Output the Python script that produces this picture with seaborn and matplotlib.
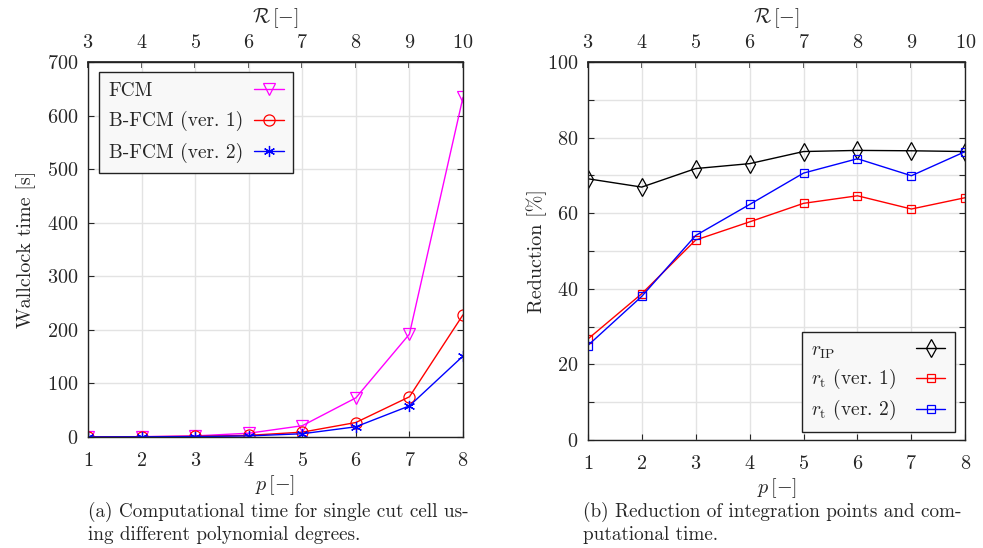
import numpy as np
import pandas as pd
import seaborn as sns
import matplotlib
matplotlib.use("Agg")
import matplotlib.pyplot as plt
from matplotlib.ticker import MultipleLocator

# ---- data ----
p = [1, 2, 3, 4, 5, 6, 7, 8]
r_ticks = [3, 4, 5, 6, 7, 8, 9, 10]
fcm = [0.3, 0.6, 2, 7, 21, 73, 192, 634]
bfcm1 = [0.2, 0.4, 1.2, 3, 9, 27, 75, 228]
bfcm2 = [0.1, 0.3, 0.8, 2, 6, 19, 58, 151]
r_ip = [69.1, 66.9, 71.8, 73.1, 76.3, 76.6, 76.5, 76.3]
r_t1 = [26.7, 38.7, 52.9, 57.7, 62.6, 64.6, 61.1, 64.1]
r_t2 = [25.0, 38.0, 54.1, 62.3, 70.6, 74.4, 69.9, 76.3]

sns.set_theme(style="ticks")
plt.rcParams["font.family"] = ["serif"]
plt.rcParams["font.serif"] = ["cmr10", "DejaVu Serif"]
plt.rcParams["mathtext.fontset"] = "cm"
plt.rcParams["axes.formatter.use_mathtext"] = True
plt.rcParams["axes.unicode_minus"] = False

fig = plt.figure(figsize=(9.83, 5.48), dpi=100)
ax1 = fig.add_axes([0.0895, 0.2026, 0.3815, 0.6844])
ax2 = fig.add_axes([0.598, 0.197, 0.384, 0.69])

df1 = pd.DataFrame({"p": p, "FCM": fcm, "B1": bfcm1, "B2": bfcm2})
df2 = pd.DataFrame({"p": p, "ip": r_ip, "t1": r_t1, "t2": r_t2})

common = dict(linewidth=1.0, markerfacecolor="none", markeredgewidth=0.9)
sns.lineplot(data=df1, x="p", y="FCM", ax=ax1, color="#ff00ff", marker="v",
             markersize=9, markeredgecolor="#ff00ff", label="FCM", **common)
sns.lineplot(data=df1, x="p", y="B1", ax=ax1, color="#ff0000", marker="o",
             markersize=8, markeredgecolor="#ff0000", label="B-FCM (ver. 1)", **common)
sns.lineplot(data=df1, x="p", y="B2", ax=ax1, color="#0000ff", marker=(6, 2, 0),
             markersize=8, markeredgecolor="#0000ff", label="B-FCM (ver. 2)", **common)

sns.lineplot(data=df2, x="p", y="ip", ax=ax2, color="black", marker="d",
             markersize=9, markeredgecolor="black", label=r"$r_{\mathrm{IP}}$", **common)
sns.lineplot(data=df2, x="p", y="t1", ax=ax2, color="#ff0000", marker="s",
             markersize=6, markeredgecolor="#ff0000", label=r"$r_{\mathrm{t}}$ (ver. 1)", **common)
sns.lineplot(data=df2, x="p", y="t2", ax=ax2, color="#0000ff", marker="s",
             markersize=6, markeredgecolor="#0000ff", label=r"$r_{\mathrm{t}}$ (ver. 2)", **common)

fs = 14.5
for ax in (ax1, ax2):
    ax.set_xlim(1, 8)
    ax.set_xticks(p)
    ax.set_xlabel(r"$p\,[-]$", fontsize=fs, labelpad=2)
    ax.grid(True, which="both", color="#e3e3e3", linewidth=1.0)
    ax.set_axisbelow(True)
    ax.tick_params(direction="in", which="both", top=False, right=True,
                   labelsize=fs, length=4, width=0.8)
    ax.tick_params(axis="x", pad=11)
    ax.tick_params(axis="y", pad=7)
    for s in ax.spines.values():
        s.set_linewidth(1.0)
        s.set_color("#222222")
    sec = ax.secondary_xaxis("top", functions=(lambda x: x + 2, lambda x: x - 2))
    sec.set_xticks(r_ticks)
    sec.tick_params(direction="in", labelsize=fs, length=4, pad=7)
    sec.set_xlabel(r"$\mathcal{R}\,[-]$", fontsize=fs, labelpad=8)

ax1.set_ylim(0, 700)
ax1.set_yticks(range(0, 701, 100))
ax1.set_ylabel("Wallclock time [s]", fontsize=fs, labelpad=8)
ax2.set_ylim(0, 100)
ax2.set_yticks(range(0, 101, 20))
ax2.yaxis.set_minor_locator(MultipleLocator(10))
ax2.set_ylabel("Reduction [%]", fontsize=fs, labelpad=0)

leg_kw = dict(markerfirst=False, fancybox=False, edgecolor="#222222",
              facecolor="#f8f8f8", framealpha=1.0, fontsize=14, handlelength=1.5,
              borderpad=0.5, handletextpad=0.6, borderaxespad=0)
l1 = ax1.legend(loc="upper left", bbox_to_anchor=(0.029, 0.973), labelspacing=0.6, **leg_kw)
l2 = ax2.legend(loc="lower right", bbox_to_anchor=(0.973, 0.021), labelspacing=0.35, **leg_kw)
for l in (l1, l2):
    l.get_frame().set_linewidth(1.0)

cap_fs = 13.8
fig.text(0.0895, 1 - 517 / 548, "(a) Computational time for single cut cell us-",
         fontsize=cap_fs, va="baseline", ha="left")
fig.text(0.0895, 1 - 540 / 548, "ing different polynomial degrees.",
         fontsize=cap_fs, va="baseline", ha="left")
fig.text(0.593, 1 - 517 / 548, "(b) Reduction of integration points and com-",
         fontsize=cap_fs, va="baseline", ha="left")
fig.text(0.593, 1 - 540 / 548, "putational time.",
         fontsize=cap_fs, va="baseline", ha="left")

# left-align legend texts while keeping markers at the right
fig.canvas.draw()
renderer = fig.canvas.get_renderer()
for leg, extra in ((l1, 0), (l2, 8)):
    for col in leg._legend_handle_box.get_children():
        rows = col.get_children()
        w = max(r.get_bbox(renderer).width for r in rows) + extra
        for r in rows:
            r.width = w
            r.mode = "expand"
        col.align = "left"

fig.savefig("out.png", dpi=100)
